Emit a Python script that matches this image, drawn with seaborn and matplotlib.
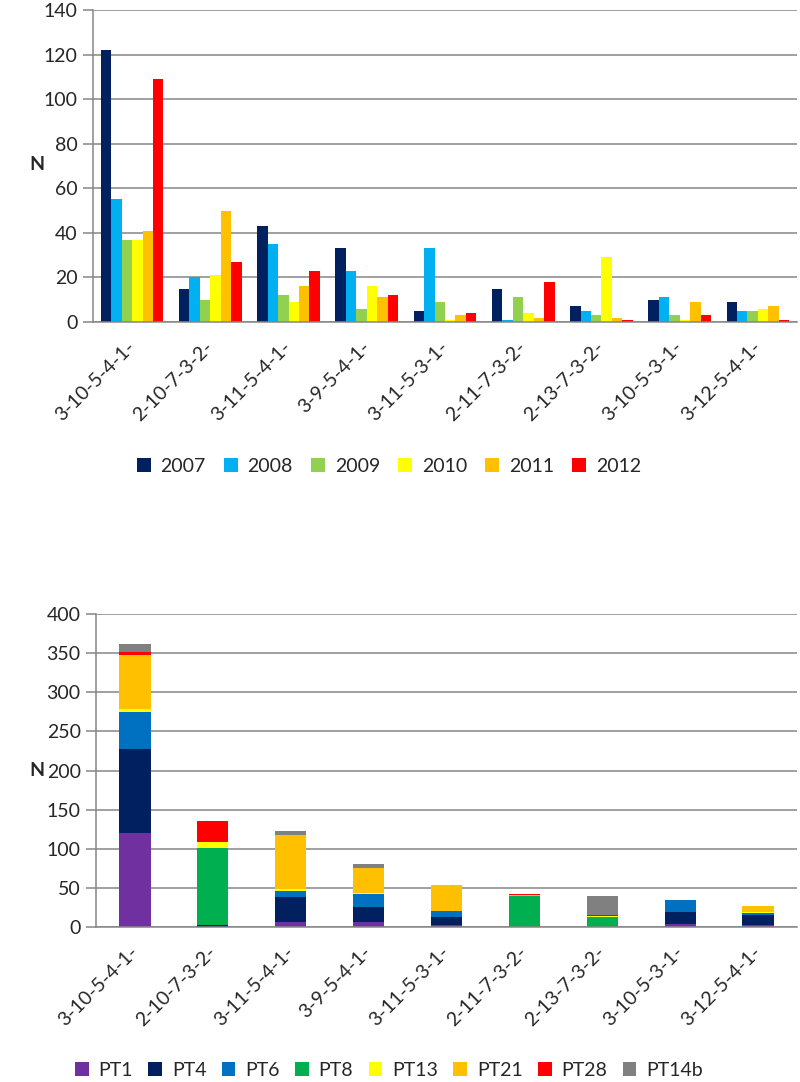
import matplotlib
matplotlib.use("Agg")
import matplotlib.pyplot as plt
import seaborn as sns
import pandas as pd
import numpy as np
from matplotlib.patches import Patch

sns.set_style("white")
plt.rcParams['font.family'] = ['Lato', 'DejaVu Sans']

categories = ["3-10-5-4-1-", "2-10-7-3-2-", "3-11-5-4-1-", "3-9-5-4-1-", "3-11-5-3-1-",
              "2-11-7-3-2-", "2-13-7-3-2-", "3-10-5-3-1-", "3-12-5-4-1-"]

# Top chart: counts per year
years = ["2007", "2008", "2009", "2010", "2011", "2012"]
y2007 = [122, 15, 43, 33, 5, 15, 7, 10, 9]
y2008 = [55, 20, 35, 23, 33, 1, 5, 11, 5]
y2009 = [37, 10, 12, 6, 9, 11, 3, 3, 5]
y2010 = [37, 21, 9, 16, 1, 4, 29, 1, 6]
y2011 = [41, 50, 16, 11, 3, 2, 2, 9, 7]
y2012 = [109, 27, 23, 12, 4, 18, 1, 3, 1]
year_values = [y2007, y2008, y2009, y2010, y2011, y2012]
year_colors = ["#002060", "#00B0F0", "#92D050", "#FFFF00", "#FFC000", "#FF0000"]

# Bottom chart: stacked counts per phage type
pts = ["PT1", "PT4", "PT6", "PT8", "PT13", "PT21", "PT28", "PT14b"]
pt1 = [120, 0, 7, 7, 3, 0, 0, 4, 3]
pt4 = [108, 2, 31, 19, 10, 0, 0, 15, 12]
pt6 = [47, 0, 8, 16, 7, 0, 0, 15, 3]
pt8 = [0, 99, 0, 0, 0, 39, 13, 0, 0]
pt13 = [4, 7, 3, 1, 1, 1, 1, 0, 1]
pt21 = [69, 0, 69, 32, 33, 1, 0, 0, 8]
pt28 = [3, 27, 0, 0, 0, 1, 1, 0, 0]
pt14b = [11, 0, 5, 6, 0, 0, 24, 0, 0]
pt_values = [pt1, pt4, pt6, pt8, pt13, pt21, pt28, pt14b]
pt_colors = ["#7030A0", "#002060", "#0070C0", "#00B050", "#FFFF00", "#FFC000", "#FF0000", "#808080"]

W, H = 800, 1082
fig = plt.figure(figsize=(W / 100, H / 100), dpi=100)
GRID = "#868686"
FS = 14

ax1 = fig.add_axes([93 / W, 1 - 322 / H, (797 - 93) / W, 312 / H])
ax2 = fig.add_axes([96 / W, 1 - 927 / H, (797 - 96) / W, 313 / H])

# ---- top grouped bars
rows = []
for yr, vals in zip(years, year_values):
    for c, v in zip(categories, vals):
        rows.append({"cat": c, "year": yr, "N": v})
df1 = pd.DataFrame(rows)
sns.barplot(data=df1, x="cat", y="N", hue="year", order=categories, hue_order=years,
            palette=year_colors, width=0.8, ax=ax1, linewidth=0, saturation=1, legend=False)

# ---- bottom stacked bars (draw cumulative tops, from highest layer down)
cum = np.cumsum(np.array(pt_values), axis=0)
for i in range(len(pts) - 1, -1, -1):
    d = pd.DataFrame({"cat": categories, "N": cum[i]})
    sns.barplot(data=d, x="cat", y="N", order=categories, color=pt_colors[i],
                width=0.4, ax=ax2, linewidth=0, saturation=1)

def style(ax, ymax, step):
    ax.set_xlim(-0.5, len(categories) - 0.5)
    ax.set_ylim(0, ymax)
    ax.set_yticks(np.arange(0, ymax + 1, step))
    ax.set_axisbelow(True)
    ax.yaxis.grid(True, color=GRID, linewidth=1.1)
    ax.xaxis.grid(False)
    for s in ["top", "right"]:
        ax.spines[s].set_visible(False)
    for s in ["left", "bottom"]:
        ax.spines[s].set_color(GRID)
        ax.spines[s].set_linewidth(1.1)
    ax.set_xlabel("")
    ax.set_ylabel("")
    ax.set_xticks(range(len(categories)))
    ax.set_xticklabels(categories, rotation=45, ha="right", va="center",
                       rotation_mode="anchor", fontsize=FS)
    ax.set_xticks(np.arange(-0.5, len(categories)), minor=True)
    ax.tick_params(axis="x", which="major", length=0, pad=16)
    ax.tick_params(axis="x", which="minor", length=7, color=GRID, width=1.1)
    ax.tick_params(axis="y", length=7, color=GRID, width=1.1, labelsize=FS, pad=4, left=True)
    leg = ax.get_legend()
    if leg is not None:
        leg.remove()

style(ax1, 140, 20)
style(ax2, 400, 50)

fig.text(37 / W, 1 - 165 / H, "N", fontsize=14, fontweight="bold", ha="center", va="center")
fig.text(37 / W, 1 - 770 / H, "N", fontsize=14, fontweight="bold", ha="center", va="center")

h1 = [Patch(facecolor=c, edgecolor="none") for c in year_colors]
fig.legend(h1, years, loc="center", bbox_to_anchor=(389 / W, 1 - 466 / H), ncol=6,
           frameon=False, fontsize=FS, handlelength=0.7, handleheight=0.7,
           handletextpad=0.5, columnspacing=0.95)

h2 = [Patch(facecolor=c, edgecolor="none") for c in pt_colors]
fig.legend(h2, pts, loc="center", bbox_to_anchor=(389 / W, 1 - 1070 / H), ncol=8,
           frameon=False, fontsize=FS, handlelength=0.7, handleheight=0.7,
           handletextpad=0.5, columnspacing=0.8)

fig.savefig("out.png", dpi=100)
